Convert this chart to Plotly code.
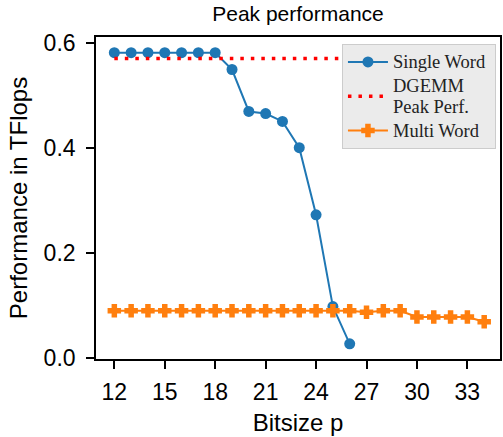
import plotly.graph_objects as go

# Data
bitsize_single = [12, 13, 14, 15, 16, 17, 18, 19, 20, 21, 22, 23, 24, 25, 26]
single_word = [0.582, 0.582, 0.582, 0.582, 0.582, 0.582, 0.582, 0.550, 0.470,
               0.466, 0.451, 0.401, 0.273, 0.098, 0.027]

bitsize_multi = [12, 13, 14, 15, 16, 17, 18, 19, 20, 21, 22, 23, 24, 25, 26,
                 27, 28, 29, 30, 31, 32, 33, 34]
multi_word = [0.090, 0.090, 0.090, 0.090, 0.090, 0.090, 0.090, 0.090, 0.090,
              0.090, 0.090, 0.090, 0.090, 0.090, 0.090, 0.087, 0.090, 0.090,
              0.078, 0.078, 0.078, 0.078, 0.069]

dgemm_x = [12, 34]
dgemm_peak = [0.571, 0.571]

x_ticks = [12, 15, 18, 21, 24, 27, 30, 33]
y_ticks = [0.0, 0.2, 0.4, 0.6]

SANS = "Liberation Sans"
SERIF = "Liberation Serif"


def leg(text):
    return '<span style="font-size:18.5px">' + text + '</span>'


fig = go.Figure()
fig.add_trace(go.Scatter(
    x=bitsize_single, y=single_word, name=leg("Single Word&nbsp;"), mode="lines+markers",
    line=dict(color="#1f77b4", width=2),
    marker=dict(symbol="circle", size=11, color="#1f77b4"),
))
fig.add_trace(go.Scatter(
    x=dgemm_x, y=dgemm_peak, name=leg("DGEMM") + "<br>" + leg("Peak Perf."), mode="lines",
    line=dict(color="#ff0000", width=3.5, dash="3.5px,7px"),
))
fig.add_trace(go.Scatter(
    x=bitsize_multi, y=multi_word, name=leg("Multi Word"), mode="lines+markers",
    line=dict(color="#ff7f0e", width=2),
    marker=dict(symbol="cross", size=10, color="#ff7f0e",
                line=dict(color="#ff7f0e", width=1.5)),
))

fig.update_layout(
    width=503, height=437,
    margin=dict(l=96, r=3, t=37, b=78, autoexpand=False),
    paper_bgcolor="white", plot_bgcolor="white",
    title=dict(text="Peak performance", x=0.5, xref="paper", xanchor="center",
               y=0.968, yref="container", yanchor="middle",
               font=dict(family=SANS, size=21, color="black")),
    font=dict(family=SANS, color="black"),
    showlegend=True,
    legend=dict(
        x=0.990, xanchor="right", y=0.978, yanchor="top",
        bgcolor="#ebebeb", bordercolor="#cccccc", borderwidth=1,
        font=dict(family=SERIF, size=16, color="#222222"),
        traceorder="normal", itemwidth=40, tracegroupgap=0,
    ),
)

fig.update_xaxes(
    range=[10.91, 34.94], tickmode="array", tickvals=x_ticks,
    ticktext=[str(v) for v in x_ticks],
    ticks="outside", ticklen=8, tickwidth=1.5, tickcolor="black",
    showline=True, linecolor="black", linewidth=1.6, mirror=True,
    showgrid=False, zeroline=False, automargin=False,
    ticklabelstandoff=4,
    tickfont=dict(family=SANS, size=23, color="black"),
    title=dict(text="Bitsize p", font=dict(family=SANS, size=24, color="black"), standoff=10),
)
fig.update_yaxes(
    range=[-0.002, 0.612], tickmode="array", tickvals=y_ticks,
    ticktext=["0.0", "0.2", "0.4", "0.6"],
    ticks="outside", ticklen=8, tickwidth=1.5, tickcolor="black",
    showline=True, linecolor="black", linewidth=1.6, mirror=True,
    showgrid=False, zeroline=False, automargin=False,
    ticklabelstandoff=6,
    tickfont=dict(family=SANS, size=23, color="black"),
    title=dict(text="Performance in TFlops", font=dict(family=SANS, size=24, color="black"), standoff=9),
)

fig.write_html("out.html", config={"displayModeBar": False},
               post_script="document.body.style.margin='0';")
